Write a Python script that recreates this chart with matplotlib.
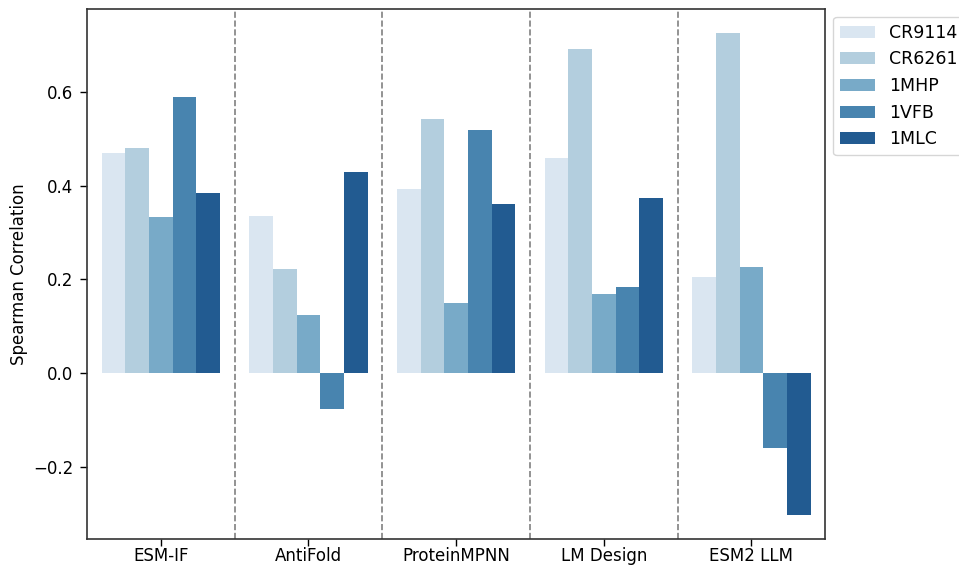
import numpy as np
import pandas as pd
import matplotlib
matplotlib.use("Agg")
import matplotlib.pyplot as plt
import seaborn as sns

# Spearman correlation per design method and antibody target
methods = ["ESM-IF", "AntiFold", "ProteinMPNN", "LM Design", "ESM2 LLM"]
targets = ["CR9114", "CR6261", "1MHP", "1VFB", "1MLC"]

cr9114 = [0.469, 0.335, 0.393, 0.458, 0.206]
cr6261 = [0.481, 0.222, 0.541, 0.691, 0.725]
mhp = [0.333, 0.124, 0.150, 0.168, 0.227]
vfb = [0.588, -0.077, 0.518, 0.184, -0.160]
mlc = [0.385, 0.428, 0.361, 0.373, -0.301]

scores = [cr9114, cr6261, mhp, vfb, mlc]

rows = []
for t, vals in zip(targets, scores):
    for m, v in zip(methods, vals):
        rows.append({"Method": m, "Target": t, "Spearman Correlation": v})
df = pd.DataFrame(rows)

plt.rcParams["font.family"] = ["DejaVu Sans"]
plt.rcParams["font.size"] = 12

fig = plt.figure(figsize=(9.59, 5.68), dpi=100)
ax = fig.add_axes([0.0907, 0.0516, 0.7699, 0.9326])

sns.barplot(data=df, x="Method", y="Spearman Correlation", hue="Target",
            order=methods, hue_order=targets, palette="Blues", ax=ax)

# separators between method groups
for i in range(len(methods) - 1):
    ax.axvline(i + 0.5, color="gray", linestyle="--", linewidth=1.2)

ax.set_xlabel("")
ax.set_ylabel("Spearman Correlation", fontsize=12)
ax.set_yticks([-0.2, 0.0, 0.2, 0.4, 0.6])
ax.tick_params(length=4.7, width=1.0, labelsize=12)
ax.tick_params(axis="y", pad=5)
ax.tick_params(axis="x", pad=1.5)
for s in ax.spines.values():
    s.set_linewidth(1.2)
    s.set_color("#333333")

ax.legend(loc="upper left", bbox_to_anchor=(1.0, 1.0), fontsize=12.5,
          borderaxespad=0.45)

fig.savefig("out.png", dpi=100)
